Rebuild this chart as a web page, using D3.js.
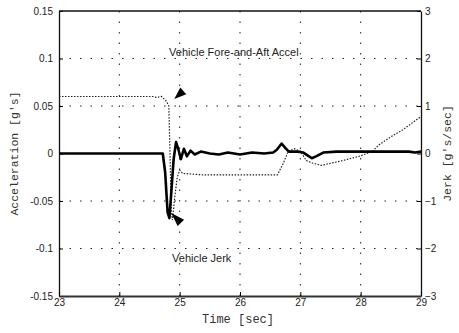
<!DOCTYPE html>
<html>
<head>
<meta charset="utf-8">
<script src="https://cdn.jsdelivr.net/npm/d3@7"></script>
<style>
  body { margin: 0; background: #fff; }
  svg { display: block; }
  .tick text { font-family: "Liberation Sans", Arial, sans-serif; font-size: 10px; fill: #222; }
</style>
</head>
<body>
<div id="chart"></div>
<script>
// DATA
const accelTime = [23.0, 24.6, 24.72, 24.76, 24.8, 24.83, 24.86, 24.9, 24.94, 24.98, 25.02, 25.07, 25.12, 25.18, 25.25, 25.35, 25.5, 25.65, 25.8, 26.0, 26.2, 26.4, 26.55, 26.61, 26.69, 26.75, 26.81, 26.95, 27.05, 27.12, 27.19, 27.26, 27.38, 27.6, 28.0, 28.5, 28.8, 28.9, 29.0];
const accelG    = [0, 0, 0, -0.02, -0.062, -0.068, -0.042, -0.006, 0.012, 0.004, -0.006, 0.005, -0.003, 0.003, -0.001, 0.002, 0, -0.001, 0.001, -0.001, 0.001, 0, 0.001, 0.004, 0.0105, 0.006, 0.002, 0.002, 0.001, -0.002, -0.005, -0.003, 0.001, 0.002, 0.002, 0.002, 0.002, 0.001, 0.002];

const jerkTime = [23.0, 24.55, 24.62, 24.7, 24.78, 24.82, 24.84, 24.86, 24.88, 24.92, 24.96, 25.0, 25.05, 25.4, 26.0, 26.62, 26.72, 26.8, 26.9, 27.0, 27.1, 27.2, 27.35, 27.7, 28.0, 28.2, 28.3, 28.5, 28.7, 29.0];
const jerkGs   = [1.2, 1.2, 1.18, 1.2, 1.1, 1.0, 0.0, -1.2, -1.4, -0.9, -0.5, -0.35, -0.42, -0.45, -0.45, -0.45, -0.2, 0.05, 0.1, 0.05, -0.15, -0.2, -0.25, -0.15, -0.05, 0.05, 0.18, 0.35, 0.5, 0.78];

const xTicks = [23, 24, 25, 26, 27, 28, 29];
const accelTicks = [-0.15, -0.1, -0.05, 0, 0.05, 0.1, 0.15];
const jerkTicks = [-3, -2, -1, 0, 1, 2, 3];

// LAYOUT
const width = 459, height = 333;
const margin = {top: 11, right: 38, bottom: 37, left: 59};

const svg = d3.select("#chart").append("svg")
    .attr("width", width)
    .attr("height", height);

const x = d3.scaleLinear().domain([23, 29]).range([margin.left, width - margin.right]);
const y = d3.scaleLinear().domain([-0.15, 0.15]).range([height - margin.bottom, margin.top]);
const yJ = d3.scaleLinear().domain([-3, 3]).range([height - margin.bottom, margin.top]);

const fmt = d => d === 0 ? "0" : String(+d.toFixed(2));

// Sparse dotted grid
const grid = svg.append("g")
    .attr("stroke", "#222")
    .attr("stroke-width", 1)
    .attr("stroke-dasharray", "1.5,9");

grid.selectAll("line.v")
    .data(xTicks.slice(1, -1))
    .enter().append("line")
    .attr("x1", d => x(d)).attr("x2", d => x(d))
    .attr("y1", y(0.15)).attr("y2", y(-0.15));

grid.selectAll("line.h")
    .data(accelTicks.filter(d => d !== 0 && Math.abs(d) < 0.15))
    .enter().append("line")
    .attr("x1", x(23)).attr("x2", x(29))
    .attr("y1", d => y(d)).attr("y2", d => y(d));

// Axes (ticks pointing inward)
svg.append("g")
    .attr("transform", `translate(${margin.left},0)`)
    .call(d3.axisLeft(y).tickValues(accelTicks).tickFormat(fmt).tickSizeInner(-4).tickSizeOuter(0).tickPadding(6))
    .call(g => g.select(".domain").attr("stroke", "#111").attr("stroke-width", 1.3));

svg.append("g")
    .attr("transform", `translate(${width - margin.right},0)`)
    .call(d3.axisRight(yJ).tickValues(jerkTicks).tickFormat(d3.format("d")).tickSizeInner(-4).tickSizeOuter(0).tickPadding(4))
    .call(g => g.select(".domain").attr("stroke", "#111").attr("stroke-width", 1.3));

svg.append("g")
    .attr("transform", `translate(0,${height - margin.bottom})`)
    .call(d3.axisBottom(x).tickValues(xTicks).tickFormat(d3.format("d")).tickSizeInner(-4).tickSizeOuter(0).tickPadding(3))
    .call(g => g.select(".domain").attr("stroke", "#333").attr("stroke-width", 1.8));

// Top border
svg.append("line")
    .attr("x1", x(23)).attr("x2", x(29))
    .attr("y1", y(0.15)).attr("y2", y(0.15))
    .attr("stroke", "#111").attr("stroke-width", 1.3);

// Zero line of acceleration / jerk series
const accelLine = d3.line().x((d, i) => x(accelTime[i])).y(d => y(d));
const jerkLine = d3.line().x((d, i) => x(jerkTime[i])).y(d => yJ(d));

svg.append("path")
    .datum(jerkGs)
    .attr("d", jerkLine)
    .attr("fill", "none")
    .attr("stroke", "#222")
    .attr("stroke-width", 1.2)
    .attr("stroke-dasharray", "1.5,1.5");

svg.append("path")
    .datum(accelG)
    .attr("d", accelLine)
    .attr("fill", "none")
    .attr("stroke", "#000")
    .attr("stroke-width", 2.6)
    .attr("stroke-linejoin", "round");

// Annotation arrowheads
const arrows = [
    {tip: [24.91, 0.0574], base: [25.06, 0.0658]},
    {tip: [24.86, -0.0626], base: [25.02, -0.073]}
];
arrows.forEach(a => {
    const tx = x(a.tip[0]), ty = y(a.tip[1]);
    const bx = x(a.base[0]), by = y(a.base[1]);
    const dx = bx - tx, dy = by - ty;
    const len = Math.hypot(dx, dy);
    const nx = -dy / len * 4.5, ny = dx / len * 4.5;
    svg.append("path")
        .attr("d", `M${tx},${ty}L${bx + nx},${by + ny}L${bx - nx},${by - ny}Z`)
        .attr("fill", "#000");
});

// Labels
svg.append("text")
    .attr("x", x(24.824)).attr("y", y(0.107))
    .attr("dy", "0.35em")
    .attr("font-family", "Liberation Sans, Arial, sans-serif")
    .attr("font-size", 11)
    .attr("fill", "#222")
    .text("Vehicle Fore-and-Aft Accel");

svg.append("text")
    .attr("x", x(24.874)).attr("y", y(-0.110))
    .attr("dy", "0.35em")
    .attr("font-family", "Liberation Sans, Arial, sans-serif")
    .attr("font-size", 11)
    .attr("fill", "#222")
    .text("Vehicle Jerk");

// Axis titles
const mono = "Liberation Mono, DejaVu Sans Mono, monospace";
svg.append("text")
    .attr("transform", `translate(14,${(margin.top + height - margin.bottom) / 2}) rotate(-90)`)
    .attr("text-anchor", "middle")
    .attr("dy", "0.35em")
    .attr("font-family", mono).attr("font-size", 11.5).attr("fill", "#333")
    .text("Acceleration [g's]");

svg.append("text")
    .attr("transform", `translate(447,${(margin.top + height - margin.bottom) / 2}) rotate(-90)`)
    .attr("text-anchor", "middle")
    .attr("dy", "0.35em")
    .attr("font-family", mono).attr("font-size", 11.5).attr("fill", "#333")
    .text("Jerk [g's/sec]");

svg.append("text")
    .attr("x", (margin.left + width - margin.right) / 2 - 2)
    .attr("y", 323)
    .attr("text-anchor", "middle")
    .attr("font-family", mono).attr("font-size", 12).attr("fill", "#333")
    .text("Time [sec]");
</script>
</body>
</html>
